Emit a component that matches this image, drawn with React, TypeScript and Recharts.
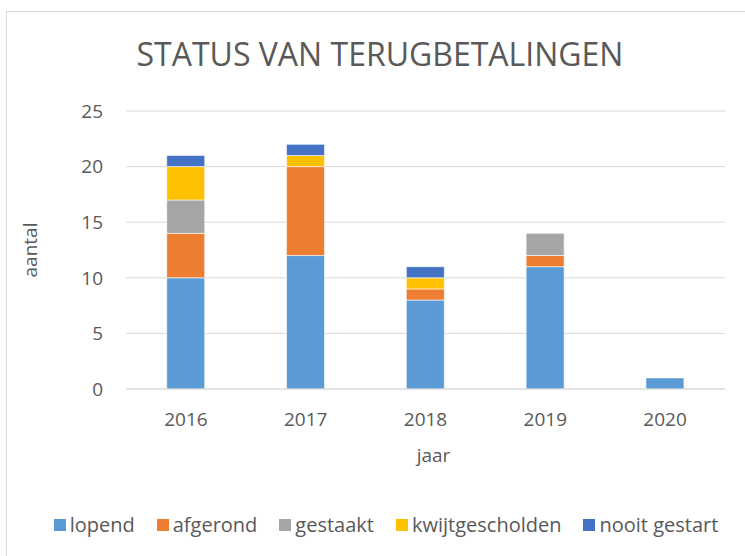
import { BarChart, Bar, XAxis, YAxis, CartesianGrid } from "recharts";

const years = ["2016", "2017", "2018", "2019", "2020"];
const lopend = [10, 12, 8, 11, 1];
const afgerond = [4, 8, 1, 1, 0];
const gestaakt = [3, 0, 0, 2, 0];
const kwijtgescholden = [3, 1, 1, 0, 0];
const nooitGestart = [1, 1, 1, 0, 0];
const yTicks = [0, 5, 10, 15, 20, 25];

const series = [
  { key: "lopend", color: "#5B9BD5" },
  { key: "afgerond", color: "#ED7D31" },
  { key: "gestaakt", color: "#A5A5A5" },
  { key: "kwijtgescholden", color: "#FFC000" },
  { key: "nooit gestart", color: "#4472C4" },
];

const chartData = years.map((year, i) => ({
  year,
  lopend: lopend[i],
  afgerond: afgerond[i],
  gestaakt: gestaakt[i],
  kwijtgescholden: kwijtgescholden[i],
  "nooit gestart": nooitGestart[i],
}));

const FONT = "'Open Sans', sans-serif";
const TEXT = "#595959";

export default function App() {
  return (
    <div
      style={{
        position: "absolute",
        left: 0,
        top: 0,
        width: 745,
        height: 556,
        overflow: "hidden",
        background: "#fff",
        fontFamily: FONT,
      }}
    >
      {/* chart area border, runs off the right/bottom edge */}
      <div
        style={{
          position: "absolute",
          left: 6,
          top: 11,
          width: 800,
          height: 600,
          border: "1px solid #d9d9d9",
        }}
      />
      <div
        style={{
          position: "absolute",
          left: 0,
          top: 34,
          width: 760,
          textAlign: "center",
          fontSize: 32,
          color: TEXT,
          lineHeight: "40px",
        }}
      >
        STATUS VAN TERUGBETALINGEN
      </div>
      <div style={{ position: "absolute", left: 0, top: 0 }}>
        <BarChart
          width={745}
          height={556}
          data={chartData}
          margin={{ top: 111, right: 20, left: 0, bottom: 0 }}
          barCategoryGap="34%"
        >
          <CartesianGrid vertical={false} stroke="#d9d9d9" />
          <XAxis
            dataKey="year"
            height={167}
            tickLine={false}
            axisLine={{ stroke: "#d9d9d9" }}
            tickMargin={18}
            tick={{ fontSize: 19, fill: TEXT, fontFamily: FONT }}
            label={{
              value: "jaar",
              position: "insideTop",
              offset: 60,
              dx: 8,
              fill: TEXT,
              style: { fontSize: 19, fill: TEXT, fontFamily: FONT },
            }}
          />
          <YAxis
            width={126}
            domain={[0, 25]}
            ticks={yTicks}
            interval={0}
            tickLine={false}
            axisLine={false}
            tickSize={0}
            tickMargin={23}
            tick={{ fontSize: 19, fill: TEXT, fontFamily: FONT }}
            label={{
              value: "aantal",
              angle: -90,
              position: "insideLeft",
              dx: 25,
              fill: TEXT,
              style: { fontSize: 19, fill: TEXT, fontFamily: FONT, textAnchor: "middle" },
            }}
          />
          {series.map((s) => (
            <Bar
              key={s.key}
              dataKey={s.key}
              stackId="a"
              fill={s.color}
              stroke="#ffffff"
              strokeWidth={0.6}
              isAnimationActive={false}
            />
          ))}
        </BarChart>
      </div>
      <div
        style={{
          position: "absolute",
          left: 0,
          top: 511,
          width: 772,
          display: "flex",
          justifyContent: "center",
          fontSize: 20,
          color: TEXT,
          lineHeight: "28px",
        }}
      >
        {series.map((s, i) => (
          <div
            key={s.key}
            style={{ display: "flex", alignItems: "center", marginRight: i < series.length - 1 ? 22 : 0 }}
          >
            <span style={{ width: 12, height: 12, background: s.color, marginRight: 4, display: "inline-block" }} />
            <span>{s.key}</span>
          </div>
        ))}
      </div>
    </div>
  );
}
